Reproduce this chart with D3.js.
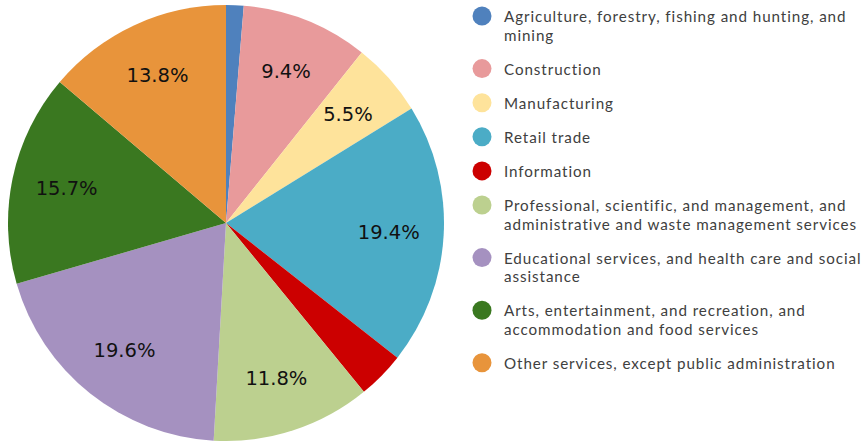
<!DOCTYPE html>
<html>
<head>
<meta charset="utf-8">
<script src="https://cdn.jsdelivr.net/npm/d3@7/dist/d3.min.js"></script>
<style>
  html, body { margin: 0; padding: 0; background: #ffffff; }
  svg { display: block; }
</style>
</head>
<body>
<svg id="chart" width="865" height="443"></svg>
<script>
// Industry shares (percent of total), clockwise from 12 o'clock
const categories = [
  "Agriculture, forestry, fishing and hunting, and\nmining",
  "Construction",
  "Manufacturing",
  "Retail trade",
  "Information",
  "Professional, scientific, and management, and\nadministrative and waste management services",
  "Educational services, and health care and social\nassistance",
  "Arts, entertainment, and recreation, and\naccommodation and food services",
  "Other services, except public administration"
];
const shares = [1.3, 9.4, 5.5, 19.4, 3.5, 11.8, 19.6, 15.7, 13.8];
const sliceColors = [
  "#4f81bd", "#e89a9b", "#fee39b", "#4bacc6", "#cc0000",
  "#bcd08f", "#a591c0", "#3a7820", "#e8943b"
];
const minLabelled = 5; // smaller slices carry no percentage label

const svg = d3.select("#chart");
const cx = 226, cy = 223, radius = 218, labelRadius = 163;

const pie = d3.pie().sort(null).value(d => d.value).startAngle(0).endAngle(2 * Math.PI);
const data = shares.map((v, i) => ({ name: categories[i], value: v, color: sliceColors[i] }));
const arcs = pie(data);

const arc = d3.arc().innerRadius(0).outerRadius(radius);
const labelArc = d3.arc().innerRadius(labelRadius).outerRadius(labelRadius);

const g = svg.append("g").attr("transform", `translate(${cx},${cy})`);

g.selectAll("path.slice")
  .data(arcs)
  .join("path")
  .attr("class", "slice")
  .attr("d", arc)
  .attr("fill", d => d.data.color);

const fmt = d3.format(".1f");
g.selectAll("text.pct")
  .data(arcs.filter(d => d.data.value >= minLabelled))
  .join("text")
  .attr("class", "pct")
  .attr("transform", d => `translate(${labelArc.centroid(d)})`)
  .attr("text-anchor", "middle")
  .attr("dominant-baseline", "central")
  .attr("font-family", "'DejaVu Sans', Verdana, sans-serif")
  .attr("font-size", 19.5)
  .attr("fill", "#111111")
  .text(d => fmt(d.data.value) + "%");

// Legend
const legendX = 482, legendTextX = 504, legendY0 = 16;
const lineH = 18.5, itemGap = 34.1;
const legendFont = "Lato, 'Open Sans', sans-serif";
const legendSize = 15.2;
const legendWidth = 358; // widest line runs to the right edge

const legend = svg.append("g");
let y = legendY0;
const items = [];
data.forEach(d => {
  const lines = d.name.split("\n");
  items.push({ d, lines, y });
  y += itemGap + lineH * (lines.length - 1);
});

const itemG = legend.selectAll("g.item")
  .data(items)
  .join("g")
  .attr("class", "item")
  .attr("transform", it => `translate(0,${it.y})`);

itemG.append("circle")
  .attr("cx", legendX)
  .attr("cy", 0)
  .attr("r", 9.5)
  .attr("fill", it => it.d.color);

const texts = itemG.append("text")
  .attr("x", legendTextX)
  .attr("y", 0)
  .attr("font-family", legendFont)
  .attr("font-size", legendSize)
  .attr("fill", "#404040");

texts.selectAll("tspan")
  .data(it => it.lines.map((l, k) => ({ l, k })))
  .join("tspan")
  .attr("x", legendTextX)
  .attr("y", t => t.k * lineH)
  .attr("dominant-baseline", "central")
  .text(t => t.l);

// widen the letter spacing so the longest line reaches the legend width
let widest = 0, widestChars = 1;
texts.selectAll("tspan").each(function () {
  const w = this.getComputedTextLength();
  if (w > widest) { widest = w; widestChars = this.textContent.length; }
});
if (widest > 0 && widest < legendWidth) {
  texts.attr("letter-spacing", ((legendWidth - widest) / widestChars).toFixed(2) + "px");
}
</script>
</body>
</html>
